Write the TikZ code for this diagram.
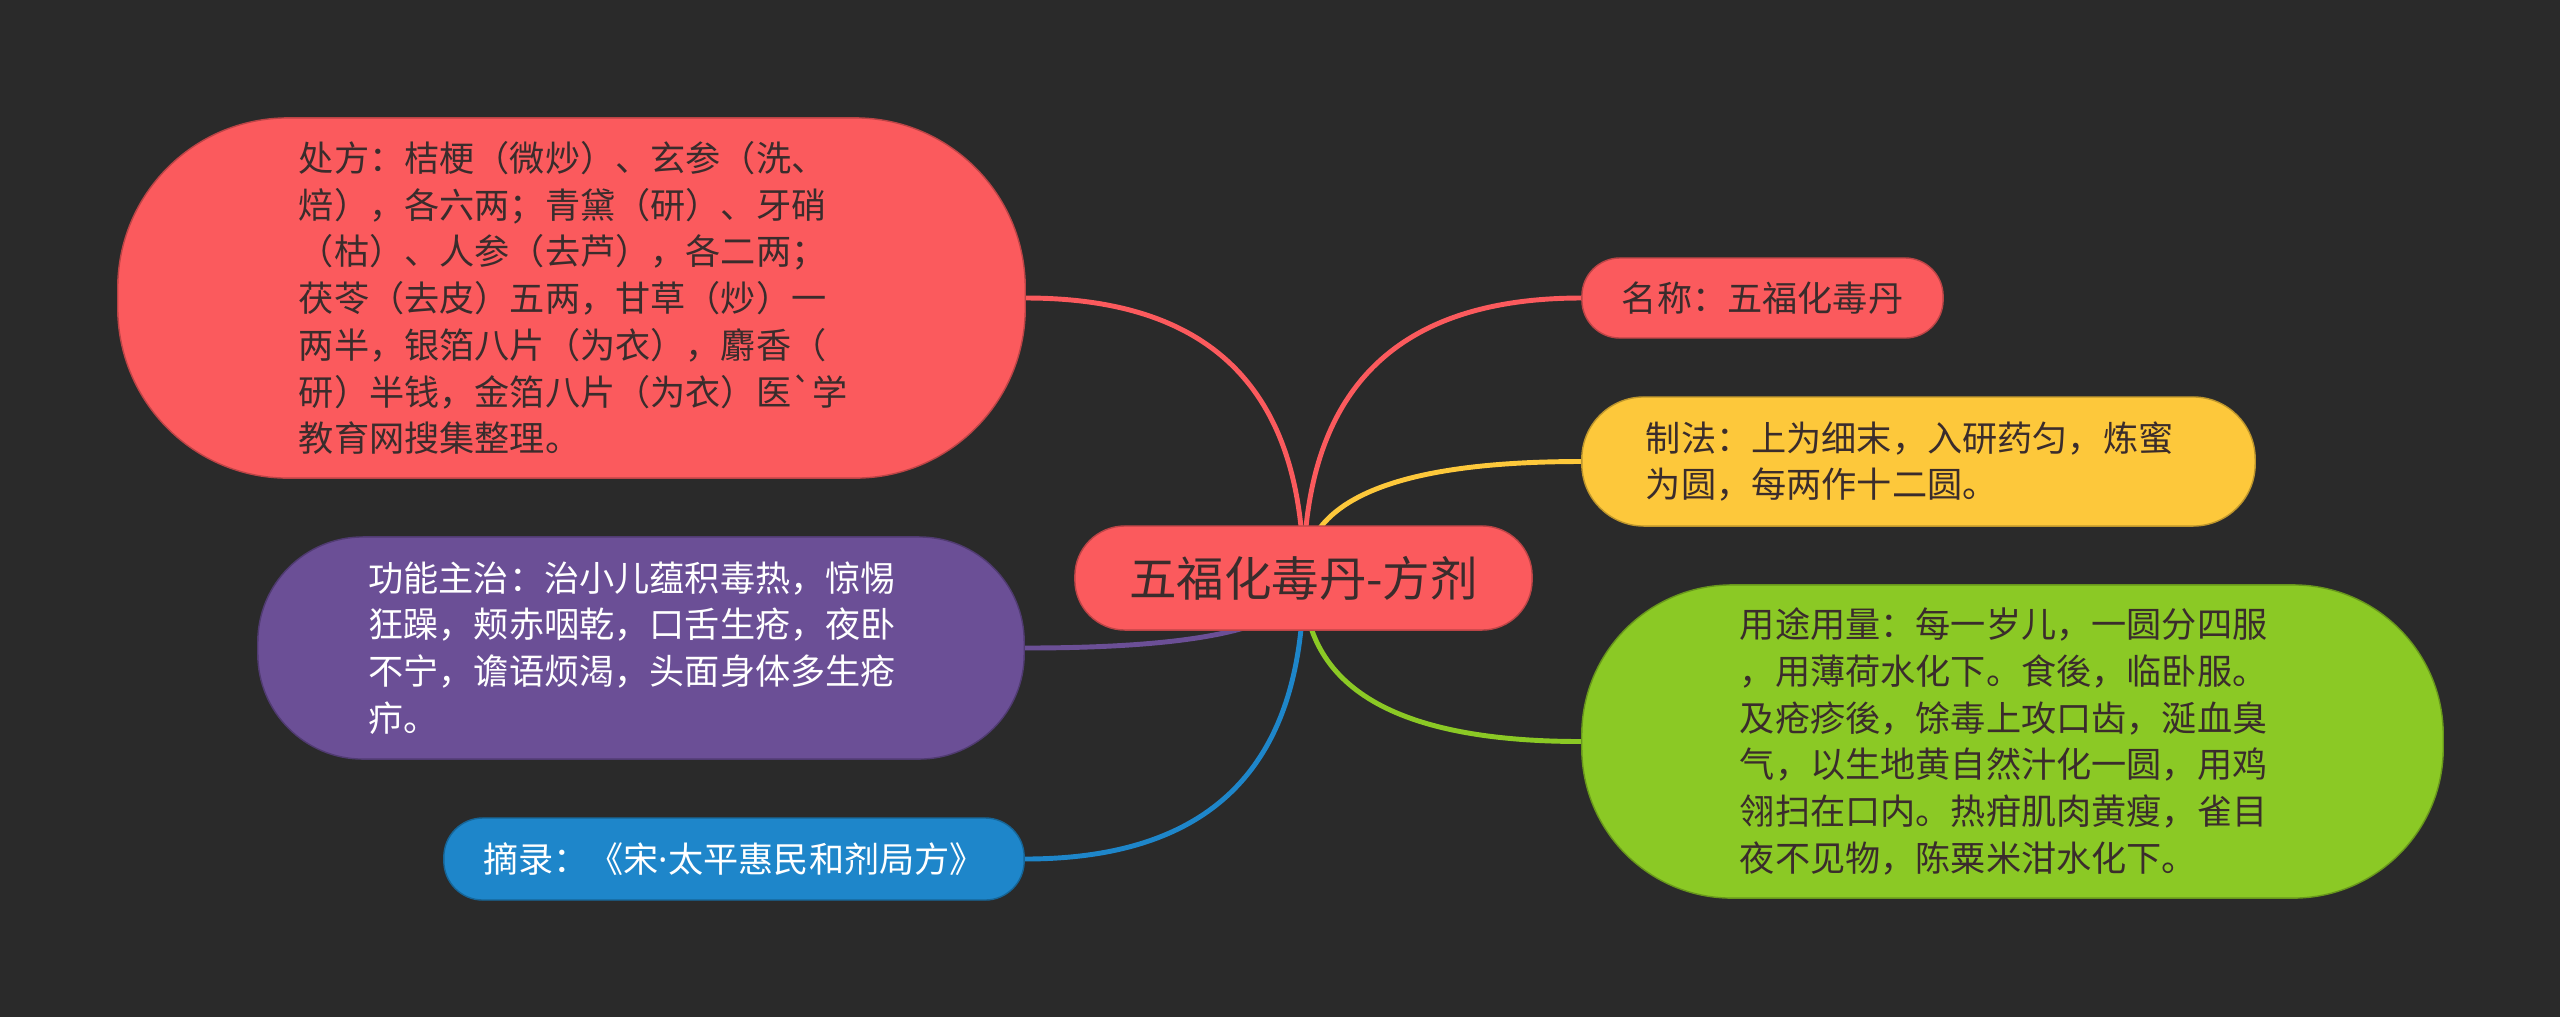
\documentclass[tikz,border=0pt]{standalone}
\usepackage{fontspec}
\setmainfont{Noto Sans CJK SC}
\newfontfamily\latinfont{Noto Sans}
\usepackage{tikz}
\usetikzlibrary{calc}

\definecolor{bgdark}{HTML}{2A2A2A}
\definecolor{inkdark}{HTML}{3A2C2C}
\definecolor{redfill}{HTML}{FB5A5D}
\definecolor{yellowfill}{HTML}{FDC83B}
\definecolor{greenfill}{HTML}{8BC925}
\definecolor{purplefill}{HTML}{6B4F96}
\definecolor{bluefill}{HTML}{1E86CA}

\pgfdeclarelayer{background}
\pgfsetlayers{background,main}

\begin{document}
\begin{tikzpicture}[
        x=0.01cm, y=-0.01cm,
        topic/.style={rectangle, fill=#1, draw=#1!75!black, line width=0.4pt, inner sep=0pt,
            font=\fontsize{10}{13.3}\selectfont, text=inkdark},
        leaf/.style={topic=#1, align=left, text width=5.45cm},
        branch/.style={draw=#1, line width=1.4pt}
    ]
    \useasboundingbox (0,0) rectangle (2560,1017);

    % central topic
    \node[topic=redfill, minimum width=4.57cm, minimum height=1.04cm, rounded corners=0.5cm,
        font=\fontsize{13.5}{16}\selectfont] (hub) at (1303.5,578) {五福化毒丹-方剂};

    % left side
    \node[leaf=redfill, minimum width=9.07cm, minimum height=3.6cm, rounded corners=1.7cm]
        (recipe) at (571.5,298) {处方：桔梗（微炒）、玄参（洗、\\焙），各六两；青黛（研）、牙硝\\（枯）、人参（去芦），各二两；\\茯苓（去皮）五两，甘草（炒）一\\两半，银箔八片（为衣），麝香（\\研）半钱，金箔八片（为衣）医\textasciigrave 学\\教育网搜集整理。};
    \node[leaf=purplefill, text=white, minimum width=7.66cm, minimum height=2.22cm, rounded corners=1.05cm]
        (usage) at (641,648) {功能主治：治小儿蕴积毒热，惊惕\\狂躁，颊赤咽乾，口舌生疮，夜卧\\不宁，谵语烦渴，头面身体多生疮\\疖。};
    \node[topic=bluefill, text=white, minimum width=5.8cm, minimum height=0.82cm, rounded corners=0.39cm]
        (source) at (734,859) {摘录：《宋{\latinfont ·}太平惠民和剂局方》};

    % right side
    \node[topic=redfill, minimum width=3.61cm, minimum height=0.8cm, rounded corners=0.38cm]
        (name) at (1762.5,298) {名称：五福化毒丹};
    \node[leaf=yellowfill, minimum width=6.73cm, minimum height=1.29cm, rounded corners=0.62cm]
        (method) at (1918.5,461.5) {制法：上为细末，入研药匀，炼蜜\\为圆，每两作十二圆。};
    \node[leaf=greenfill, minimum width=8.61cm, minimum height=3.13cm, rounded corners=1.5cm]
        (dosage) at (2012.5,741.5) {用途用量：每一岁儿，一圆分四服\\，用薄荷水化下。食後，临卧服。\\及疮疹後，馀毒上攻口齿，涎血臭\\气，以生地黄自然汁化一圆，用鸡\\翎扫在口内。热疳肌肉黄瘦，雀目\\夜不见物，陈粟米泔水化下。};

    \begin{pgfonlayer}{background}
        \fill[bgdark] (0,0) rectangle (2560,1017);
        % branches from the hub
        \foreach \t/\a/\c in {recipe/east/redfill, usage/east/purplefill, source/east/bluefill,
                name/west/redfill, method/west/yellowfill, dosage/west/greenfill} {
            \draw[branch=\c] (hub.center)
                .. controls ($(hub.center)!0.67!(hub.center |- \t.\a)$)
                and ($(\t.\a)!0.67!(hub.center |- \t.\a)$) .. (\t.\a);
        }
    \end{pgfonlayer}

\end{tikzpicture}
\end{document}
